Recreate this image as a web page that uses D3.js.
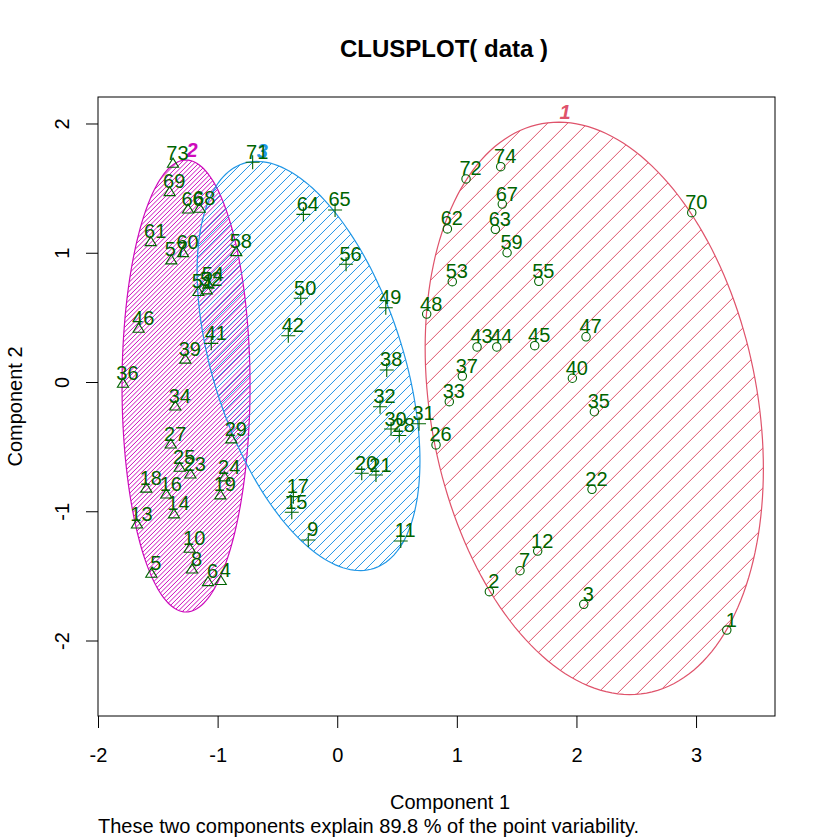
<!DOCTYPE html>
<html>
<head>
<meta charset="utf-8">
<script src="https://cdn.jsdelivr.net/npm/d3@7"></script>
<style>
  body { margin: 0; background: #fff; }
  text { font-family: "Liberation Sans", Arial, Helvetica, sans-serif; }
</style>
</head>
<body>
<div id="chart"></div>
<script>
// point labels, first two components and cluster of each observation
const pointLabels = d3.range(1, 75);
const comp1 = [
  3.257, 1.272, 2.061, -0.974, -1.554, -1.080, 1.528, -1.214, -0.242, -1.233,
  0.531, 1.676, -1.674, -1.365, -0.380, -1.429, -0.367, -1.596, -0.977, 0.205,
  0.324, 2.130, -1.228, -0.941, -1.317, 0.826, -1.392, 0.519, -0.885, 0.450,
  0.684, 0.358, 0.937, -1.354, 2.150, -1.791, 1.046, 0.414, -1.270, 1.966,
  -1.053, -0.409, 1.169, 1.334, 1.651, -1.660, 2.080, 0.748, 0.406, -0.305,
  -1.161, -1.091, 0.962, -1.078, 1.685, 0.074, -1.387, -0.844, 1.420, -1.289,
  -1.559, 0.921, 1.322, -0.283, -0.018, -1.247, 1.380, -1.150, -1.401, 2.964,
  -0.707, 1.077, -1.373, 1.367
];
const comp2 = [
  -1.919, -1.622, -1.720, -1.537, -1.480, -1.545, -1.460, -1.447, -1.222, -1.287,
  -1.230, -1.308, -1.099, -1.021, -1.008, -0.867, -0.887, -0.822, -0.874, -0.706,
  -0.720, -0.830, -0.712, -0.735, -0.660, -0.487, -0.480, -0.414, -0.441, -0.364,
  -0.323, -0.191, -0.152, -0.186, -0.230, -0.010, 0.046, 0.093, 0.176, 0.029,
  0.299, 0.358, 0.271, 0.271, 0.281, 0.415, 0.350, 0.526, 0.575, 0.648,
  0.699, 0.712, 0.776, 0.756, 0.779, 0.911, 0.944, 1.008, 1.000, 1.000,
  1.085, 1.184, 1.181, 1.297, 1.331, 1.338, 1.377, 1.344, 1.472, 1.310,
  1.700, 1.571, 1.692, 1.666
];
const clusterOf = [
  1, 1, 1, 2, 2, 2, 1, 2, 3, 2,
  3, 1, 2, 2, 3, 2, 3, 2, 2, 3,
  3, 1, 2, 2, 2, 1, 2, 3, 2, 3,
  3, 3, 1, 2, 1, 2, 1, 3, 2, 1,
  3, 3, 1, 1, 1, 2, 1, 1, 3, 3,
  2, 2, 1, 2, 1, 3, 2, 2, 1, 2,
  2, 1, 1, 3, 3, 2, 1, 2, 2, 1,
  3, 1, 2, 1
];

// spanning ellipses: centre and shape matrix per cluster
const clusterIds = [1, 2, 3];
const centreX = [2.149, -1.264, -0.240];
const centreY = [-0.204, -0.031, 0.124];
const shapeXX = [1.999, 0.2864, 0.8679];
const shapeYY = [4.903, 3.057, 2.505];
const shapeXY = [-0.66, 0.0, -0.6825];

const xTicks = [-2, -1, 0, 1, 2, 3];
const yTicks = [-2, -1, 0, 1, 2];
const xDomain = [-2, 3.66];
const yDomain = [-2.584, 2.205];

const clusterColor = ["#DF536B", "#CD0BBC", "#2297E6"];
const hatchStep = [20, 4.5, 10];
const pointColor = "#006400";

const width = 840;
const height = 840;
const margin = { top: 97, right: 65, bottom: 124, left: 98 };

const svg = d3
  .select("#chart")
  .append("svg")
  .attr("width", width)
  .attr("height", height);

const x = d3.scaleLinear().domain(xDomain).range([margin.left, width - margin.right]);
const y = d3.scaleLinear().domain(yDomain).range([height - margin.bottom, margin.top]);

// ellipse outline in pixel space
function ellipsePoints(i) {
  const l11 = Math.sqrt(shapeXX[i]);
  const l21 = shapeXY[i] / l11;
  const l22 = Math.sqrt(shapeYY[i] - l21 * l21);
  return d3.range(0, 361, 2).map(function (deg) {
    const t = (deg * Math.PI) / 180;
    const c = Math.cos(t), s = Math.sin(t);
    return [x(centreX[i] + l11 * c), y(centreY[i] + l21 * c + l22 * s)];
  });
}

const line = d3.line();
const defs = svg.append("defs");

clusterIds.forEach(function (id, i) {
  const pts = ellipsePoints(i);
  defs
    .append("clipPath")
    .attr("id", "clip" + id)
    .append("path")
    .attr("d", line(pts) + "Z");

  // hatch lines at 45 degrees
  const sums = pts.map((p) => p[0] + p[1]);
  const lo = d3.min(sums), hi = d3.max(sums);
  const xs = pts.map((p) => p[0]);
  const x0 = d3.min(xs) - 5, x1 = d3.max(xs) + 5;
  const g = svg.append("g").attr("clip-path", "url(#clip" + id + ")");
  for (let c = lo + hatchStep[i] / 2; c < hi; c += hatchStep[i]) {
    g.append("line")
      .attr("x1", x0).attr("y1", c - x0)
      .attr("x2", x1).attr("y2", c - x1)
      .attr("stroke", clusterColor[i])
      .attr("stroke-width", 1);
  }

  svg
    .append("path")
    .attr("d", line(pts) + "Z")
    .attr("fill", "none")
    .attr("stroke", clusterColor[i])
    .attr("stroke-width", 1.2);

  // cluster number just above the top of the ellipse
  const top = pts.reduce((a, b) => (b[1] < a[1] ? b : a));
  svg
    .append("text")
    .attr("x", top[0] + 6)
    .attr("y", top[1] - 3)
    .attr("text-anchor", "middle")
    .attr("font-size", "20px")
    .attr("font-weight", "bold")
    .attr("font-style", "italic")
    .attr("fill", clusterColor[i])
    .text(id);
});

// points
const points = pointLabels.map(function (lab, k) {
  return { label: lab, px: x(comp1[k]), py: y(comp2[k]), cl: clusterOf[k] };
});

const marks = svg.append("g").attr("fill", "none").attr("stroke", pointColor).attr("stroke-width", 1.1);
points.forEach(function (d) {
  if (d.cl === 1) {
    marks.append("circle").attr("cx", d.px).attr("cy", d.py).attr("r", 4.2);
  } else if (d.cl === 2) {
    const h = 5.2;
    marks
      .append("path")
      .attr("d", `M${d.px},${d.py - h}L${d.px + 5.6},${d.py + h * 0.75}L${d.px - 5.6},${d.py + h * 0.75}Z`);
  } else {
    marks
      .append("path")
      .attr("d", `M${d.px - 7},${d.py}H${d.px + 7}M${d.px},${d.py - 7}V${d.py + 7}`);
  }
});

svg
  .append("g")
  .selectAll("text")
  .data(points)
  .enter()
  .append("text")
  .attr("x", (d) => d.px + 4.5)
  .attr("y", (d) => d.py - 3.5)
  .attr("text-anchor", "middle")
  .attr("font-size", "20px")
  .attr("fill", pointColor)
  .text((d) => d.label);

// box
svg
  .append("rect")
  .attr("x", margin.left)
  .attr("y", margin.top)
  .attr("width", width - margin.left - margin.right)
  .attr("height", height - margin.top - margin.bottom)
  .attr("fill", "none")
  .attr("stroke", "#000")
  .attr("stroke-width", 1);

// axes, R style labels with a plain hyphen
const fmt = (d) => String(d);

const xAxis = svg
  .append("g")
  .attr("transform", "translate(0," + (height - margin.bottom) + ")")
  .call(d3.axisBottom(x).tickValues(xTicks).tickFormat(fmt).tickSize(12).tickSizeOuter(0).tickPadding(20));
xAxis.select(".domain").remove();
xAxis.selectAll("text").attr("font-size", "20px").attr("font-family", null);

const yAxis = svg
  .append("g")
  .attr("transform", "translate(" + margin.left + ",0)")
  .call(d3.axisLeft(y).tickValues(yTicks).tickFormat(fmt).tickSize(12).tickSizeOuter(0));
yAxis.select(".domain").remove();
yAxis
  .selectAll("text")
  .attr("x", null)
  .attr("dy", null)
  .attr("font-size", "20px")
  .attr("font-family", null)
  .attr("text-anchor", "middle")
  .attr("transform", "translate(-29,0) rotate(-90)");
svg.selectAll(".tick line").attr("stroke", "#000");

// titles
svg
  .append("text")
  .attr("x", 444)
  .attr("y", 57)
  .attr("text-anchor", "middle")
  .attr("font-size", "24px")
  .attr("font-weight", "bold")
  .text("CLUSPLOT( data )");

svg
  .append("text")
  .attr("x", 450)
  .attr("y", 809)
  .attr("text-anchor", "middle")
  .attr("font-size", "20px")
  .text("Component 1");

svg
  .append("text")
  .attr("x", margin.left)
  .attr("y", 833)
  .attr("font-size", "20px")
  .text("These two components explain 89.8 % of the point variability.");

svg
  .append("text")
  .attr("transform", "translate(22," + (margin.top + height - margin.bottom) / 2 + ") rotate(-90)")
  .attr("text-anchor", "middle")
  .attr("font-size", "20px")
  .text("Component 2");
</script>
</body>
</html>
